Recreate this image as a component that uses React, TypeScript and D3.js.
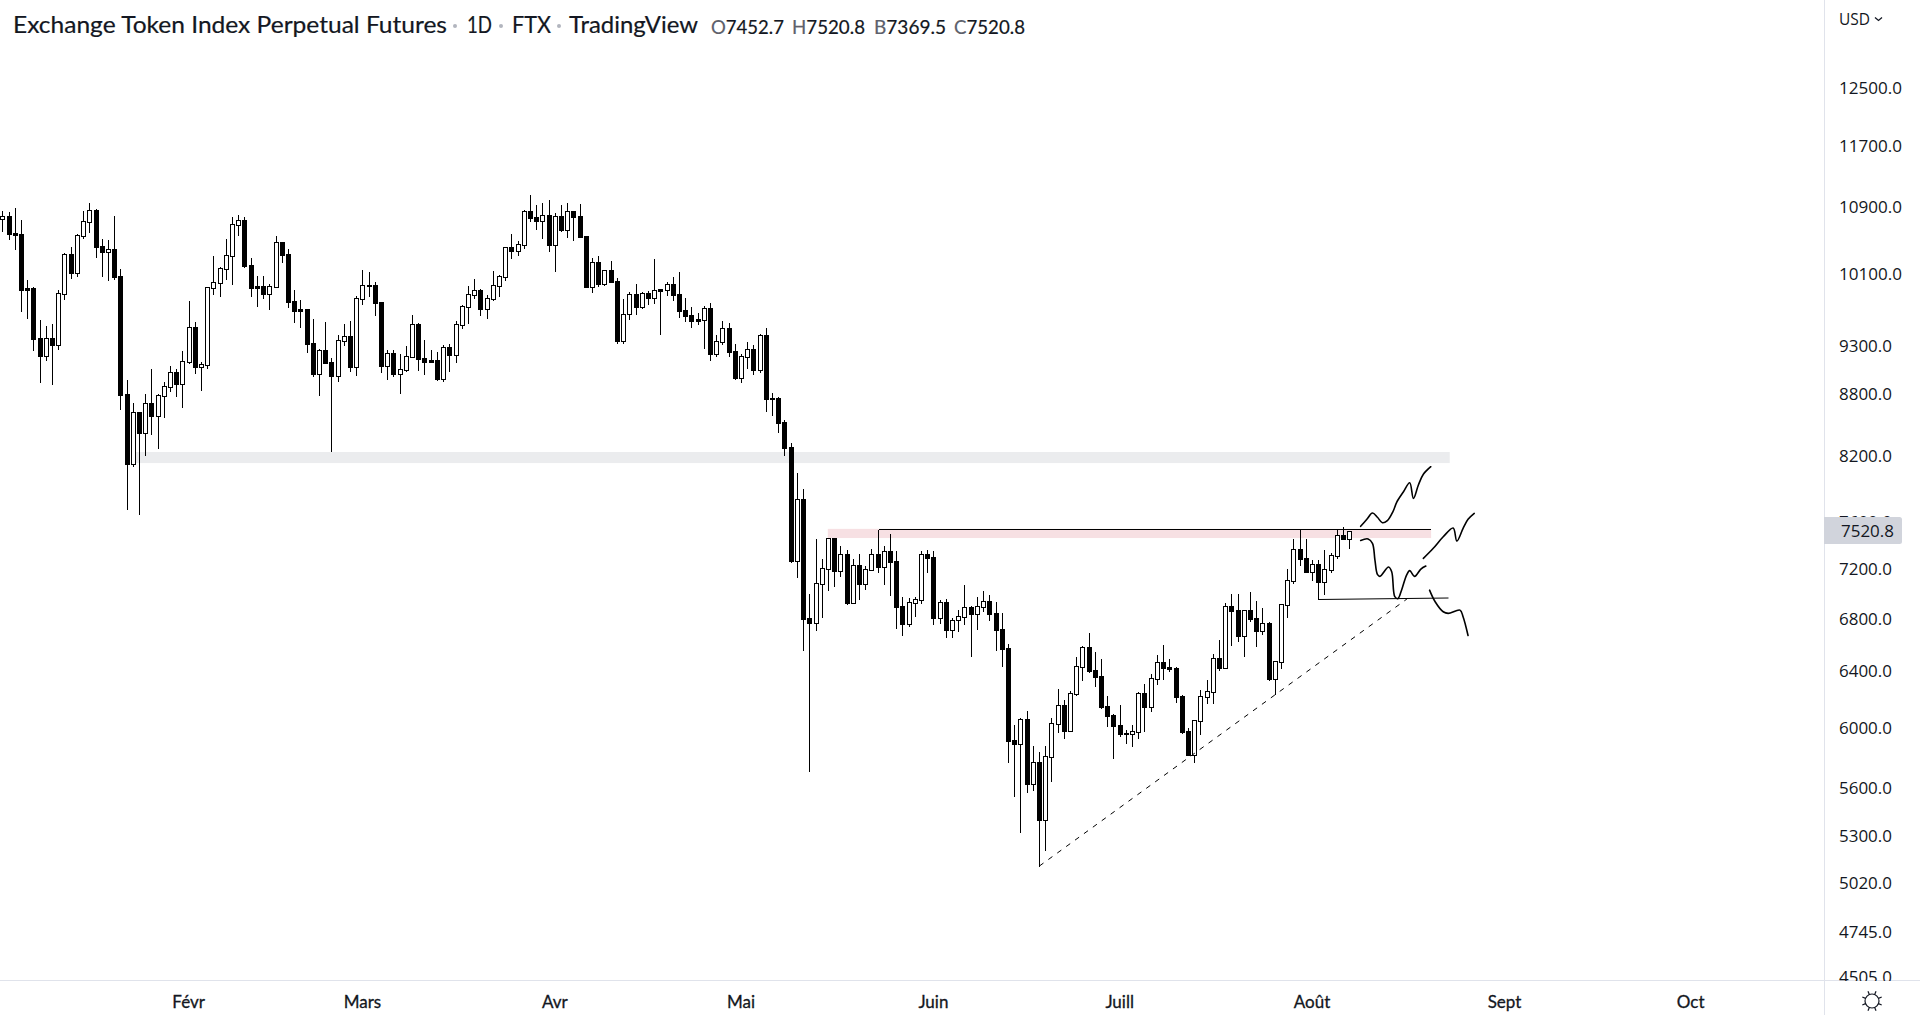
import * as d3 from 'd3'

// Daily candles, oldest first
const opens = [
  10760, 10793, 10584, 10572, 9937, 9937, 9383, 9191, 9383, 9312,
  9872, 10332, 10110, 10548, 10719, 10867, 10427, 10355, 10391, 10075,
  8798, 8119, 8619, 8413, 8708, 8579, 8778, 8870, 9024, 8900,
  9128, 9502, 9076, 9097, 9937, 9995, 10155, 10308, 10682, 10743,
  10202, 9960, 9960, 9868, 9948, 10476, 10332, 9790, 9700, 9700,
  9330, 9003, 9255, 9128, 8983, 9351, 9405, 9076, 9812, 9960,
  9971, 9779, 9087, 9223, 9003, 9045, 9181, 9535, 9170, 9149,
  9149, 8951, 9287, 9202, 9524, 9723, 9857, 9914, 9700, 9812,
  9960, 10063, 10415, 10367, 10439, 10855, 10780, 10731, 10805, 10439,
  10793, 10620, 10855, 10793, 10548, 9948, 10238, 9983, 10144, 10017,
  9351, 9645, 9868, 9723, 9880, 9824, 9925, 9914, 9983, 9868,
  9689, 9634, 9590, 9579, 9711, 9212, 9341, 9491, 9244, 8962,
  9181, 9266, 9045, 9415, 8748, 8758, 8521, 8280, 7264, 7799,
  6804, 6765, 7075, 7198, 7458, 7182, 7322, 6922, 7231, 7075,
  7190, 7322, 7214, 7348, 7264, 6899, 6757, 6922, 6946, 7322,
  7297, 6804, 6930, 6711, 6788, 6812, 6891, 6835, 6891, 6938,
  6843, 6718, 6574, 5915, 5888, 6059, 5624, 5768, 5397, 5801,
  6024, 6157, 5976, 6236, 6432, 6581, 6410, 6366, 6150, 6087,
  6017, 5962, 5956, 5969, 6243, 6143, 6344, 6469, 6432, 6425,
  6222, 5976, 5814, 6045, 6215, 6250, 6499, 6425, 6899, 6867,
  6665, 6867, 6804, 6703, 6765, 6344, 6469, 6906, 7099, 7365,
  7289, 7173, 7239, 7091, 7190, 7306, 7484, 7452.7,
]

const highs = [
  10867, 10855, 10905, 10755, 10040, 9960, 9590, 9524, 9546, 9925,
  10355, 10427, 10584, 10867, 10967, 10892, 10524, 10512, 10805, 10167,
  8951, 8718, 8619, 8809, 9066, 8809, 8931, 9097, 9066, 9255,
  9801, 9568, 9139, 9948, 10320, 10190, 10524, 10793, 10817, 10793,
  10296, 10086, 10086, 9995, 10560, 10476, 10403, 9925, 9812, 9711,
  9601, 9276, 9568, 9181, 9426, 9546, 9579, 9857, 10155, 10132,
  10017, 9790, 9266, 9266, 9223, 9309, 9645, 9557, 9373, 9266,
  9244, 9319, 9330, 9579, 9756, 9971, 10052, 9937, 9868, 10144,
  10098, 10427, 10584, 10500, 10880, 11068, 10942, 10967, 11005, 10842,
  10942, 10967, 10855, 10955, 10560, 10296, 10320, 10155, 10261, 10063,
  9824, 9902, 9995, 9902, 9914, 10285, 9937, 10017, 10075, 10132,
  9835, 9734, 9667, 9745, 9779, 9426, 9579, 9557, 9330, 9223,
  9351, 9319, 9437, 9502, 8819, 8778, 8550, 8327, 8045, 7898,
  7002, 7458, 7289, 7458, 7458, 7398, 7365, 7289, 7331, 7231,
  7373, 7536, 7398, 7501, 7356, 6978, 6970, 6978, 7356, 7365,
  7356, 6954, 6962, 6812, 6875, 7075, 6906, 6978, 7026, 6994,
  6938, 6851, 6611, 6024, 6073, 6122, 5881, 5841, 5881, 6073,
  6279, 6200, 6265, 6514, 6596, 6696, 6551, 6499, 6229, 6101,
  6165, 5990, 6024, 6258, 6315, 6388, 6529, 6604, 6499, 6440,
  6236, 6004, 6052, 6272, 6344, 6536, 6642, 6930, 7002, 7002,
  6875, 7018, 6946, 6891, 6780, 6484, 6914, 7206, 7458, 7536,
  7458, 7281, 7281, 7365, 7340, 7536, 7562, 7520.8,
]

const lows = [
  10608, 10512, 10391, 9678, 9601, 9255, 8921, 9149, 8900, 9266,
  9812, 10052, 10075, 10524, 10596, 10296, 10075, 10029, 10040, 8649,
  7711, 8100, 7667, 8203, 8403, 8270, 8570, 8829, 8778, 8669,
  9118, 9014, 8839, 9066, 9868, 9846, 10040, 9983, 10560, 10178,
  9846, 9734, 9824, 9700, 9948, 10238, 9723, 9557, 9502, 9234,
  8983, 8788, 9118, 8241, 8931, 9309, 9035, 8993, 9756, 9846,
  9634, 9024, 8951, 8983, 8809, 9035, 9181, 9045, 9003, 9128,
  8941, 8931, 9035, 9128, 9491, 9546, 9824, 9634, 9601, 9801,
  9846, 10029, 10285, 10320, 10403, 10731, 10632, 10524, 10367, 10132,
  10608, 10536, 10500, 10536, 9948, 9891, 9960, 9971, 10006, 9330,
  9330, 9590, 9645, 9711, 9756, 9767, 9426, 9857, 9801, 9612,
  9568, 9502, 9535, 9276, 9149, 9191, 9319, 9191, 8951, 8921,
  9066, 9003, 9024, 8629, 8590, 8423, 8203, 7256, 7132, 6559,
  5708, 6711, 6812, 7026, 7058, 7140, 6914, 6922, 6954, 7034,
  7190, 7173, 7075, 6986, 6726, 6672, 6741, 6819, 6922, 7173,
  6757, 6765, 6657, 6657, 6703, 6757, 6514, 6718, 6859, 6788,
  6559, 6440, 5768, 5547, 5323, 5573, 5585, 5119, 5214, 5644,
  5969, 5928, 5976, 6229, 6337, 6396, 6294, 6136, 6010, 5794,
  5942, 5895, 5875, 5928, 5976, 6115, 6308, 6344, 6403, 6179,
  5962, 5814, 5768, 5956, 6172, 6172, 6410, 6425, 6596, 6626,
  6514, 6780, 6589, 6680, 6337, 6236, 6425, 6812, 7083, 7231,
  7173, 7107, 6954, 6994, 7173, 7289, 7450, 7369.5,
]

const closes = [
  10788, 10572, 10560, 9914, 9914, 9373, 9191, 9383, 9309, 9876,
  10332, 10110, 10560, 10731, 10867, 10415, 10355, 10391, 10063, 8788,
  8119, 8619, 8413, 8708, 8579, 8788, 8880, 9024, 8900, 9139,
  9502, 9076, 9108, 9948, 10006, 10167, 10320, 10694, 10743, 10190,
  9937, 9937, 9868, 9960, 10476, 10320, 9779, 9678, 9678, 9319,
  9003, 9255, 9118, 8983, 9362, 9405, 9076, 9824, 9971, 9971,
  9767, 9087, 9223, 9003, 9056, 9191, 9535, 9160, 9128, 9128,
  8951, 9287, 9202, 9535, 9734, 9868, 9914, 9700, 9824, 9971,
  10075, 10415, 10367, 10451, 10855, 10768, 10731, 10805, 10439, 10793,
  10620, 10855, 10780, 10536, 9948, 10238, 9983, 10144, 10006, 9351,
  9645, 9868, 9723, 9880, 9824, 9914, 9902, 9983, 9857, 9678,
  9623, 9568, 9568, 9711, 9212, 9351, 9491, 9234, 8962, 9191,
  9266, 9045, 9415, 8748, 8758, 8511, 8270, 7264, 7799, 6796,
  6765, 7083, 7206, 7458, 7182, 7322, 6922, 7231, 7075, 7198,
  7322, 7214, 7348, 7256, 6891, 6757, 6930, 6954, 7322, 7289,
  6804, 6930, 6711, 6788, 6819, 6891, 6835, 6899, 6938, 6835,
  6711, 6566, 5908, 5888, 6059, 5624, 5768, 5397, 5808, 6031,
  6157, 5976, 6243, 6440, 6581, 6403, 6359, 6143, 6080, 6010,
  5956, 5956, 5976, 6243, 6143, 6352, 6469, 6425, 6418, 6215,
  5969, 5814, 6052, 6222, 6258, 6499, 6425, 6899, 6859, 6665,
  6867, 6796, 6703, 6765, 6344, 6477, 6914, 7107, 7365, 7281,
  7173, 7239, 7091, 7198, 7314, 7484, 7450, 7520.8,
]

// Axis ticks
const priceTicks = [12500, 11700, 10900, 10100, 9300, 8800, 8200, 7600, 7200, 6800, 6400, 6000, 5600, 5300, 5020, 4745, 4505]
const monthLabels = ['Févr', 'Mars', 'Avr', 'Mai', 'Juin', 'Juill', 'Août', 'Sept', 'Oct']
const monthBars = [30, 58, 89, 119, 150, 180, 211, 242, 272]

// Drawn zones and lines, in bar index and price
const greyZone = { bars: [20.8, 233.1], prices: [8232, 8128] }
const pinkZone = { bars: [132.9, 230.1], prices: [7537, 7458] }
const resistanceBars = [141, 230.1]
const resistancePrices = [7537, 7537]
const supportBars = [212, 232.9]
const supportPrices = [6950, 6962]
const trendBars = [167, 226.2]
const trendPrices = [5119, 6954]

// Hand drawn scenarios
const sketchA: [number, number][] = [
  [218.75, 7559], [219.75, 7620], [220.65, 7675], [221.45, 7638], [222.25, 7590], [223.05, 7608], [223.95, 7687],
  [224.55, 7770], [225.65, 7865], [226.65, 7946], [227.25, 7805], [228.05, 7926], [228.85, 8024], [230.05, 8094],
]
const sketchB: [number, number][] = [
  [218.75, 7438], [219.95, 7450], [220.65, 7413], [221.05, 7272], [221.45, 7154], [221.85, 7137], [223.25, 7214],
  [223.75, 7175], [224.25, 6973], [224.75, 6957], [225.35, 7027], [226.15, 7148], [226.65, 7184], [227.45, 7137],
  [228.45, 7197], [229.25, 7222],
]
const sketchC: [number, number][] = [
  [228.85, 7286], [230.45, 7371], [232.05, 7469], [233.65, 7544], [234.25, 7432], [235.25, 7541], [236.05, 7620], [237.05, 7672],
]
const sketchD: [number, number][] = [
  [229.85, 7025], [230.75, 6932], [232.05, 6853], [232.85, 6840], [234.75, 6866], [235.25, 6814], [236.05, 6669],
]

const WIDTH = 1920
const HEIGHT = 1015
const AXIS_X = 1824
const AXIS_Y = 981
const TEXT = '#131722'
const FONT_UI = '"Open Sans", sans-serif'
const FONT_TITLE = 'Lato, sans-serif'

const x = d3.scaleLinear().domain([0, 217]).range([2.9, 1349.8])
const y = d3.scaleLog().domain([12500, 5020]).range([88, 883])

const barX = (i: number) => Math.floor(x(i)) + 0.5
const snapY = (p: number) => Math.round(y(p)) + 0.5

const sketchLine = d3
  .line<[number, number]>()
  .x(d => x(d[0]))
  .y(d => y(d[1]))
  .curve(d3.curveCatmullRom.alpha(0.5))

// Pieces of the legend row: text, left edge, right edge
const titleParts: [string, number, number][] = [
  ['Exchange Token Index Perpetual Futures', 13, 447],
  ['1D', 467, 492],
  ['FTX', 512, 551],
  ['TradingView', 569, 698],
]
const titleDots = [455, 501, 559]
const ohlc: [string, string, number, number][] = [
  ['O', '7452.7', 711, 784],
  ['H', '7520.8', 792, 865],
  ['B', '7369.5', 874, 946],
  ['C', '7520.8', 954, 1025],
]

const gearAngles = d3.range(0, 360, 45)

export default function App() {
  const candles = d3.range(opens.length)

  return (
    <svg
      width={WIDTH}
      height={HEIGHT}
      viewBox={`0 0 ${WIDTH} ${HEIGHT}`}
      style={{ position: 'absolute', left: 0, top: 0, display: 'block', background: '#fff' }}
    >
      <defs>
        <clipPath id="axis-clip">
          <rect x={AXIS_X} y={0} width={WIDTH - AXIS_X} height={AXIS_Y} />
        </clipPath>
      </defs>

      {/* Zones sit behind the candles */}
      <rect
        x={x(greyZone.bars[0])}
        width={x(greyZone.bars[1]) - x(greyZone.bars[0])}
        y={y(greyZone.prices[0])}
        height={y(greyZone.prices[1]) - y(greyZone.prices[0])}
        fill="#ebecee"
      />
      <rect
        x={x(pinkZone.bars[0])}
        width={x(pinkZone.bars[1]) - x(pinkZone.bars[0])}
        y={y(pinkZone.prices[0])}
        height={y(pinkZone.prices[1]) - y(pinkZone.prices[0])}
        fill="#f7e0e3"
      />

      <g shapeRendering="crispEdges">
        {candles.map(i => {
          const top = snapY(Math.max(opens[i], closes[i]))
          const bottom = snapY(Math.min(opens[i], closes[i]))
          const up = closes[i] >= opens[i]
          return (
            <g key={i}>
              <line x1={barX(i)} x2={barX(i)} y1={snapY(highs[i])} y2={snapY(lows[i])} stroke="#000" strokeWidth={1} />
              <rect
                x={barX(i) - 2}
                width={4}
                y={top}
                height={Math.max(bottom - top, 1)}
                fill={up ? '#fff' : '#000'}
                stroke="#000"
                strokeWidth={1}
              />
            </g>
          )
        })}
      </g>

      {/* Resistance and support lines */}
      <line
        x1={barX(resistanceBars[0])}
        x2={x(resistanceBars[1])}
        y1={snapY(resistancePrices[0])}
        y2={snapY(resistancePrices[1])}
        stroke="#000"
        strokeWidth={1}
        shapeRendering="crispEdges"
      />
      <line
        x1={barX(supportBars[0])}
        x2={x(supportBars[1])}
        y1={y(supportPrices[0])}
        y2={y(supportPrices[1])}
        stroke="#000"
        strokeWidth={1}
      />
      <line
        x1={x(trendBars[0])}
        x2={x(trendBars[1])}
        y1={y(trendPrices[0])}
        y2={y(trendPrices[1])}
        stroke="#000"
        strokeWidth={1}
        strokeDasharray="5 6"
      />

      {[sketchA, sketchB, sketchC, sketchD].map((pts, i) => (
        <path key={i} d={sketchLine(pts) ?? ''} fill="none" stroke="#000" strokeWidth={1.6} strokeLinecap="round" />
      ))}

      {/* Price axis */}
      <line x1={AXIS_X + 0.5} x2={AXIS_X + 0.5} y1={0} y2={HEIGHT} stroke="#e0e3eb" />
      <line x1={0} x2={WIDTH} y1={AXIS_Y - 0.5} y2={AXIS_Y - 0.5} stroke="#e0e3eb" />
      <g clipPath="url(#axis-clip)" fontFamily={FONT_UI} fontSize={17} fill={TEXT}>
        {priceTicks.map(t => (
          <text key={t} x={1839} y={y(t)} dy="0.36em" textLength={t >= 10000 ? 63 : 53} lengthAdjust="spacingAndGlyphs">
            {t.toFixed(1)}
          </text>
        ))}
      </g>
      <path d="M1824,517 H1899.5 a2.5,2.5 0 0 1 2.5,2.5 V541.5 a2.5,2.5 0 0 1 -2.5,2.5 H1824 Z" fill="#d1d4dc" />
      <text x={1841} y={y(closes[closes.length - 1])} dy="0.36em" fontFamily={FONT_UI} fontSize={17} fill={TEXT} textLength={53} lengthAdjust="spacingAndGlyphs">
        {closes[closes.length - 1].toFixed(1)}
      </text>
      <text x={1839} y={19} dy="0.36em" fontFamily={FONT_UI} fontSize={16} fill={TEXT} textLength={31} lengthAdjust="spacingAndGlyphs">
        USD
      </text>
      <path d="M1875,17.5 L1878.5,20.5 L1882,17.5" fill="none" stroke={TEXT} strokeWidth={1.3} />

      {/* Settings icon */}
      <g transform="translate(1872,1001)" stroke={TEXT} strokeWidth={1.2} fill="none">
        <circle r={7} />
        {gearAngles.map(a => (
          <line key={a} x1={0} x2={0} y1={-7} y2={-10.5} transform={`rotate(${a + 22.5})`} />
        ))}
      </g>

      {/* Time axis */}
      <g fontFamily={FONT_TITLE} fontSize={17} fill={TEXT} stroke={TEXT} strokeWidth={0.3} textAnchor="middle">
        {monthLabels.map((label, i) => (
          <text key={label} x={x(monthBars[i]) - 0.5} y={1002} dy="0.36em">
            {label}
          </text>
        ))}
      </g>

      {/* Legend row */}
      <g fontFamily={FONT_TITLE} fontSize={23} fill={TEXT} stroke={TEXT} strokeWidth={0.2}>
        {titleParts.map(([label, x0, x1]) => (
          <text key={label} x={x0} y={25} dy="0.36em" textLength={x1 - x0} lengthAdjust="spacingAndGlyphs">
            {label}
          </text>
        ))}
      </g>
      {titleDots.map(cx => (
        <circle key={cx} cx={cx} cy={26} r={2} fill="#b2b5be" />
      ))}
      <g fontFamily={FONT_TITLE} fontSize={19} fill={TEXT} stroke={TEXT} strokeWidth={0.2}>
        {ohlc.map(([key, value, x0, x1]) => (
          <text key={key} x={x0} y={27} dy="0.36em" textLength={x1 - x0} lengthAdjust="spacingAndGlyphs">
            <tspan fill="#5d606b" stroke="#5d606b">{key}</tspan>
            {value}
          </text>
        ))}
      </g>
    </svg>
  )
}
